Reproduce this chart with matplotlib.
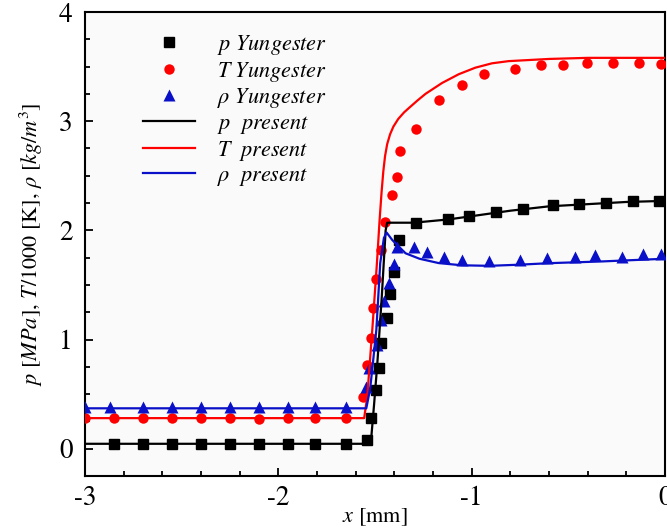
import matplotlib
matplotlib.use("Agg")
import matplotlib.pyplot as plt
from matplotlib.ticker import MultipleLocator

plt.rcParams['font.family'] = ['STIXGeneral', 'Liberation Serif', 'DejaVu Serif']
plt.rcParams['mathtext.fontset'] = 'stix'
plt.rcParams['axes.unicode_minus'] = False

# Yungester reference data (markers)
p_yung_x = [-2.85, -2.70, -2.55, -2.40, -2.25, -2.10, -1.95, -1.81, -1.65,
            -1.54, -1.522, -1.496, -1.48, -1.47, -1.437, -1.42, -1.404, -1.374,
            -1.29, -1.12, -1.015, -0.875, -0.737, -0.581, -0.443, -0.306, -0.168, -0.03]
p_yung_y = [0.045, 0.045, 0.045, 0.045, 0.045, 0.045, 0.045, 0.045, 0.045,
            0.08, 0.28, 0.54, 0.74, 0.97, 1.20, 1.42, 1.615, 1.91,
            2.065, 2.10, 2.13, 2.17, 2.20, 2.23, 2.24, 2.25, 2.27, 2.27]

T_yung_x = [-3.0, -2.85, -2.70, -2.55, -2.40, -2.25, -2.10, -1.95, -1.81, -1.65,
            -1.56, -1.54, -1.522, -1.51, -1.496, -1.47, -1.448, -1.41, -1.388, -1.371,
            -1.287, -1.17, -1.05, -0.937, -0.778, -0.641, -0.53, -0.402, -0.268, -0.134, -0.019]
T_yung_y = [0.28, 0.28, 0.28, 0.28, 0.28, 0.28, 0.27, 0.28, 0.28, 0.28,
            0.47, 0.77, 1.01, 1.29, 1.55, 1.82, 2.08, 2.32, 2.49, 2.73,
            2.93, 3.19, 3.33, 3.43, 3.48, 3.51, 3.51, 3.53, 3.53, 3.53, 3.52]

rho_yung_x = [-3.0, -2.87, -2.70, -2.55, -2.40, -2.25, -2.10, -1.95, -1.81, -1.65,
              -1.548, -1.53, -1.49, -1.47, -1.454, -1.428, -1.402, -1.385,
              -1.297, -1.23, -1.144, -1.052, -0.912, -0.749, -0.612, -0.466,
              -0.362, -0.22, -0.113, -0.019]
rho_yung_y = [0.385, 0.385, 0.385, 0.385, 0.385, 0.385, 0.385, 0.385, 0.385, 0.385,
              0.565, 0.74, 0.95, 1.18, 1.35, 1.515, 1.69, 1.85,
              1.85, 1.805, 1.76, 1.73, 1.72, 1.73, 1.75, 1.76,
              1.77, 1.76, 1.78, 1.78]

# present simulation (lines)
p_pres_x = [-3.0, -1.522, -1.505, -1.488, -1.465, -1.445, -1.437, -1.30, -1.12,
            -1.0, -0.8, -0.6, -0.4, -0.2, 0.0]
p_pres_y = [0.045, 0.045, 0.40, 0.78, 1.39, 2.0, 2.07, 2.07, 2.10,
            2.13, 2.18, 2.22, 2.24, 2.26, 2.27]

T_pres_x = [-3.0, -1.556, -1.54, -1.514, -1.49, -1.476, -1.466, -1.457, -1.448,
            -1.437, -1.422, -1.405, -1.38, -1.35, -1.325, -1.28, -1.239, -1.153,
            -1.067, -0.981, -0.895, -0.809, -0.6, -0.4, 0.0]
T_pres_y = [0.28, 0.28, 0.48, 1.09, 1.70, 2.10, 2.35, 2.54, 2.68,
            2.79, 2.88, 2.95, 3.02, 3.08, 3.12, 3.19, 3.25, 3.35,
            3.43, 3.49, 3.53, 3.55, 3.57, 3.58, 3.58]

rho_pres_x = [-3.0, -1.545, -1.525, -1.51, -1.493, -1.473, -1.454, -1.44, -1.41,
              -1.342, -1.27, -1.17, -1.05, -0.91, -0.76, -0.59, -0.33, 0.0]
rho_pres_y = [0.37, 0.37, 0.55, 0.80, 1.09, 1.70, 1.93, 1.98, 1.91,
              1.79, 1.74, 1.70, 1.68, 1.675, 1.685, 1.70, 1.715, 1.74]

red = '#ff0000'
blue = '#0a10c8'

fig = plt.figure(figsize=(6.67, 5.28), dpi=100)
ax = fig.add_axes([85 / 667, 52 / 528, 580 / 667, 464 / 528])
ax.set_facecolor('#fafafa')

ax.plot(p_yung_x, p_yung_y, 's', color='black', ms=6.5, label=r'$p$ Yungester', zorder=3)
ax.plot(T_yung_x, T_yung_y, 'o', color=red, ms=7.5, mec='none', label=r'$T$ Yungester', zorder=3)
ax.plot(rho_yung_x, rho_yung_y, '^', color=blue, ms=8, mec='none', label=r'$\rho$ Yungester', zorder=3)
ax.plot(p_pres_x, p_pres_y, '-', color='black', lw=1.6, label=r'$p$  present', zorder=4)
ax.plot(T_pres_x, T_pres_y, '-', color=red, lw=1.6, label=r'$T$  present', zorder=4)
ax.plot(rho_pres_x, rho_pres_y, '-', color=blue, lw=1.6, label=r'$\rho$  present', zorder=4)

ax.set_xlim(-3, 0)
ax.set_ylim(-0.25, 4)
ax.xaxis.set_major_locator(MultipleLocator(1))
ax.xaxis.set_minor_locator(MultipleLocator(0.2))
ax.yaxis.set_major_locator(MultipleLocator(1))
ax.yaxis.set_minor_locator(MultipleLocator(0.25))
ax.tick_params(which='both', direction='in', top=False, right=False, width=1.3, labelsize=19.5)
ax.tick_params(which='major', length=6)
ax.tick_params(which='minor', length=3.5)
ax.tick_params(axis='y', pad=9)
ax.tick_params(axis='x', pad=7)
for s in ax.spines.values():
    s.set_linewidth(1.5)

ax.set_xlabel(r'$x$ [mm]', fontsize=16, labelpad=-3)
ax.set_ylabel(r'$p$ [$MPa$], $T$/1000 [K], $\rho$ [$kg/m^3$]', fontsize=16, labelpad=10)

leg = ax.legend(loc='upper left', bbox_to_anchor=(0.10, 0.955), frameon=False,
                handlelength=2.35, handletextpad=1.0, labelspacing=0.12,
                borderpad=0, borderaxespad=0, prop={'style': 'italic', 'size': 16})

fig.savefig('out.png', dpi=100, facecolor='white')
